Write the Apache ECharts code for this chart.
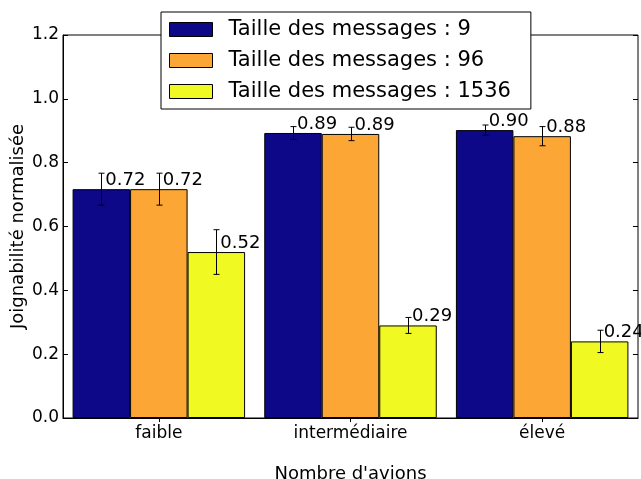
<!DOCTYPE html>
<html>
<head>
<meta charset="utf-8">
<script src="https://cdn.jsdelivr.net/npm/echarts@6/dist/echarts.min.js"></script>
<style>html,body{margin:0;padding:0;background:#fff;}#c{width:641px;height:479px;}</style>
</head>
<body>
<div id="c"></div>
<script>
const categories = ['faible', 'intermédiaire', 'élevé'];
const seriesNames = ['Taille des messages : 9', 'Taille des messages : 96', 'Taille des messages : 1536'];
const values9 = [0.717, 0.893, 0.902];
const values96 = [0.717, 0.890, 0.883];
const values1536 = [0.520, 0.290, 0.240];
const errors9 = [0.050, 0.020, 0.016];
const errors96 = [0.050, 0.021, 0.030];
const errors1536 = [0.070, 0.025, 0.035];
const yTicks = [0, 0.2, 0.4, 0.6, 0.8, 1.0, 1.2];

const colors = ['#0d0887', '#fca636', '#f0f921'];
const FONT = 'DejaVu Sans';
const allValues = [values9, values96, values1536];
const allErrors = [errors9, errors96, errors1536];

const chart = echarts.init(document.getElementById('c'), null, {renderer: 'canvas'});

const barSeries = allValues.map((vals, k) => ({
  name: seriesNames[k],
  type: 'bar',
  data: vals,
  barGap: '0%',
  barCategoryGap: '10%',
  itemStyle: {color: colors[k], borderColor: '#000', borderWidth: 1},
  label: {
    show: true,
    position: ['50%', 0],
    align: 'left',
    verticalAlign: 'bottom',
    offset: [4, 0],
    formatter: p => p.value.toFixed(2),
    fontFamily: FONT,
    fontSize: 18,
    color: '#000'
  },
  z: 2
}));

const errSeries = allValues.map((vals, k) => ({
  type: 'custom',
  name: 'err' + k,
  data: vals.map((v, i) => [i, v, allErrors[k][i]]),
  encode: {x: 0, y: 1},
  z: 5,
  silent: true,
  renderItem: function (params, api) {
    const i = api.value(0), v = api.value(1), e = api.value(2);
    const band = api.size([1, 0])[0];
    const bw = band * 0.3;
    const cx = Math.round(api.coord([i, v])[0] + (k - 1) * bw) + 0.5;
    const yTop = api.coord([i, v + e])[1];
    const yBot = api.coord([i, v - e])[1];
    const st = {stroke: '#000', lineWidth: 1};
    return {
      type: 'group',
      children: [
        {type: 'line', shape: {x1: cx, y1: yTop, x2: cx, y2: yBot}, style: st},
        {type: 'line', shape: {x1: cx - 3, y1: yTop, x2: cx + 3, y2: yTop}, style: st},
        {type: 'line', shape: {x1: cx - 3, y1: yBot, x2: cx + 3, y2: yBot}, style: st}
      ]
    };
  }
}));

const option = {
  animation: false,
  backgroundColor: '#fff',
  grid: {left: 63, right: 3, top: 35, bottom: 61, containLabel: false, outerBoundsMode: 'none', show: true, borderColor: '#000', borderWidth: 1, backgroundColor: 'transparent'},
  legend: {
    data: seriesNames,
    orient: 'vertical',
    left: 161,
    top: 12,
    icon: 'rect',
    itemWidth: 43,
    itemHeight: 14,
    itemGap: 10,
    padding: [7, 20, 7, 8],
    backgroundColor: '#fff',
    borderColor: '#000',
    borderWidth: 1,
    borderRadius: 0,
    itemStyle: {borderColor: '#000', borderWidth: 1},
    textStyle: {fontFamily: FONT, fontSize: 21, color: '#000', lineHeight: 21, padding: [0, 0, 0, 11]},
    z: 10
  },
  xAxis: [
    {
      type: 'category',
      data: categories,
      position: 'bottom',
      name: "Nombre d'avions",
      nameLocation: 'middle',
      nameGap: 47,
      nameMoveOverlap: false,
      nameTextStyle: {fontFamily: FONT, fontSize: 18, color: '#000'},
      axisLine: {show: true, lineStyle: {color: '#000', width: 1}},
      axisTick: {show: true, inside: true, alignWithLabel: true, length: 4, lineStyle: {color: '#000'}},
      axisLabel: {fontFamily: FONT, fontSize: 17, color: '#000', margin: 7},
      splitLine: {show: false}
    },
    {
      type: 'category',
      data: categories,
      position: 'top',
      axisLine: {show: false},
      axisTick: {show: true, inside: true, alignWithLabel: true, length: 4, lineStyle: {color: '#000'}},
      axisLabel: {show: false},
      splitLine: {show: false}
    }
  ],
  yAxis: [
    {
      type: 'value',
      min: 0,
      max: 1.2,
      interval: 0.2,
      position: 'left',
      name: 'Joignabilité normalisée',
      nameLocation: 'middle',
      nameGap: 36,
      nameMoveOverlap: false,
      nameTextStyle: {fontFamily: FONT, fontSize: 18, color: '#000'},
      axisLine: {show: true, lineStyle: {color: '#000'}},
      axisTick: {show: true, inside: true, length: 5, lineStyle: {color: '#000'}},
      axisLabel: {fontFamily: FONT, fontSize: 17, color: '#000', margin: 4, formatter: v => yTicks.includes(+v.toFixed(1)) ? v.toFixed(1) : ''},
      splitLine: {show: false}
    },
    {
      type: 'value',
      min: 0,
      max: 1.2,
      interval: 0.2,
      position: 'right',
      axisLine: {show: false},
      axisTick: {show: true, inside: true, length: 5, lineStyle: {color: '#000'}},
      axisLabel: {show: false},
      splitLine: {show: false}
    }
  ],
  series: barSeries.concat(errSeries)
};
chart.setOption(option);
</script>
</body>
</html>
